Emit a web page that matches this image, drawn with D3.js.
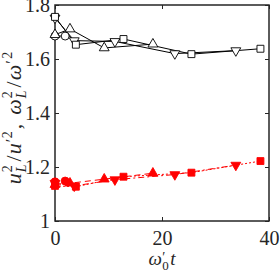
<!DOCTYPE html>
<html>
<head>
<meta charset="utf-8">
<script src="https://cdn.jsdelivr.net/npm/d3@7"></script>
<style>
  body { margin: 0; background: #fff; }
  text { font-family: "Liberation Serif", "DejaVu Serif", serif; }
</style>
</head>
<body>
<div id="chart"></div>
<script>
// time values for each run
const tCircle = [0, 1.9];
const tTri = [0, 2.8, 9.2, 18.3];
const tTriDown = [0, 3.6, 11.2, 22.4, 33.8];
const tSquare = [0, 3.9, 12.8, 25.5, 38.4];

// velocity ratio (open black markers)
const uCircle = [1.685, 1.685];
const uTri = [1.69, 1.711, 1.641, 1.655];
const uTriDown = [1.752, 1.668, 1.665, 1.62, 1.631];
const uSquare = [1.756, 1.653, 1.674, 1.618, 1.638];

// vorticity ratio (filled red markers)
const wCircle = [1.145, 1.148];
const wTri = [1.135, 1.14, 1.155, 1.177];
const wTriDown = [1.14, 1.13, 1.153, 1.172, 1.207];
const wSquare = [1.13, 1.127, 1.164, 1.179, 1.222];

const xTicks = [0, 20, 40];
const yTicks = [1, 1.2, 1.4, 1.6, 1.8];

const width = 280, height = 270;
const margin = { top: 5, right: 11, bottom: 49, left: 55 };
const innerW = width - margin.left - margin.right;
const innerH = height - margin.top - margin.bottom;

const svg = d3.select('#chart').append('svg')
  .attr('width', width)
  .attr('height', height);

const g = svg.append('g')
  .attr('transform', `translate(${margin.left},${margin.top})`);

const x = d3.scaleLinear().domain([0, 40]).range([0, innerW]);
const y = d3.scaleLinear().domain([1, 1.8]).range([innerH, 0]);

// axes, ticks pointing inward, mirrored on top/right
const axisColor = '#262626';
function styleAxis(sel) {
  sel.select('.domain').remove();
  sel.selectAll('line').attr('stroke', axisColor).attr('stroke-width', 1);
  sel.selectAll('text')
    .attr('fill', '#262626')
    .style('font-size', '20px');
}

g.append('g')
  .attr('transform', `translate(0,${innerH})`)
  .call(d3.axisBottom(x).tickValues(xTicks).tickSize(-4).tickPadding(10))
  .call(styleAxis);
g.append('g')
  .call(d3.axisTop(x).tickValues(xTicks).tickSize(-4).tickFormat(''))
  .call(styleAxis);
g.append('g')
  .call(d3.axisLeft(y).tickValues(yTicks).tickSize(-4).tickPadding(5)
    .tickFormat(d3.format('~g')))
  .call(styleAxis);
g.append('g')
  .attr('transform', `translate(${innerW},0)`)
  .call(d3.axisRight(y).tickValues(yTicks).tickSize(-4).tickFormat(''))
  .call(styleAxis);

g.append('rect')
  .attr('width', innerW)
  .attr('height', innerH)
  .attr('fill', 'none')
  .attr('stroke', axisColor)
  .attr('stroke-width', 1.5);

const series = [
  { t: tCircle, v: uCircle, shape: d3.symbolCircle, color: '#000', open: true, dash: null },
  { t: tTri, v: uTri, shape: d3.symbolTriangle, color: '#000', open: true, dash: null },
  { t: tTriDown, v: uTriDown, shape: 'down', color: '#000', open: true, dash: null },
  { t: tSquare, v: uSquare, shape: d3.symbolSquare, color: '#000', open: true, dash: null },
  { t: tCircle, v: wCircle, shape: d3.symbolCircle, color: '#f00', open: false, dash: '4,3' },
  { t: tTri, v: wTri, shape: d3.symbolTriangle, color: '#f00', open: false, dash: '6,4' },
  { t: tTriDown, v: wTriDown, shape: 'down', color: '#f00', open: false, dash: '6,3,2,3' },
  { t: tSquare, v: wSquare, shape: d3.symbolSquare, color: '#f00', open: false, dash: '2,2' }
];

const line = d3.line()
  .x(d => x(d[0]))
  .y(d => y(d[1]));

series.forEach(s => {
  const pts = s.t.map((t, i) => [t, s.v[i]]);
  g.append('path')
    .datum(pts)
    .attr('fill', 'none')
    .attr('stroke', s.color)
    .attr('stroke-width', 1)
    .attr('stroke-dasharray', s.dash)
    .attr('d', line);
});

function symbolPath(shape) {
  if (shape === 'down') {
    return d3.symbol().type(d3.symbolTriangle).size(42)();
  }
  const size = shape === d3.symbolCircle ? 50 : shape === d3.symbolSquare ? 48 : 42;
  return d3.symbol().type(shape).size(size)();
}

series.forEach(s => {
  const pts = s.t.map((t, i) => [t, s.v[i]]);
  g.selectAll(null)
    .data(pts)
    .enter()
    .append('path')
    .attr('d', symbolPath(s.shape))
    .attr('transform', d => `translate(${x(d[0])},${y(d[1])})` +
      (s.shape === 'down' ? ' rotate(180)' : ''))
    .attr('fill', s.open ? '#fff' : s.color)
    .attr('stroke', s.color)
    .attr('stroke-width', 0.9);
});

// axis labels, built from pieces placed side by side
function mathLabel(parent, pieces, base) {
  let cx = 0;
  pieces.forEach(p => {
    const t = parent.append('text')
      .attr('x', cx + (p.dx || 0))
      .attr('y', p.dy || 0)
      .style('font-size', (p.size || base) + 'px')
      .style('font-style', p.italic ? 'italic' : 'normal')
      .attr('fill', '#262626')
      .text(p.s);
    if (!p.stack) {
      cx += t.node().getComputedTextLength() + (p.dx || 0) + (p.gap || 0);
    }
  });
  return cx;
}

const xlG = svg.append('g');
const xw = mathLabel(xlG, [
  { s: 'ω', italic: true },
  { s: '′', size: 14, dy: -3, dx: 0.5, stack: true },
  { s: '0', size: 13, dy: 5, dx: 0.5, gap: 1.5 },
  { s: 't', italic: true }
], 19);
xlG.attr('transform', `translate(${margin.left + innerW / 2 - xw / 2},265)`);

const sup = -9, sub = 5;
const ylG = svg.append('g');
const yw = mathLabel(ylG, [
  { s: 'u', italic: true },
  { s: '2', size: 14, dy: sup, dx: 1, stack: true },
  { s: 'L', size: 14, italic: true, dy: sub, dx: 1, gap: 3 },
  { s: '/', gap: 1 },
  { s: 'u', italic: true },
  { s: '′', size: 16, dy: -4, dx: 1, stack: true },
  { s: '2', size: 14, dy: sup, dx: 5, gap: 2 },
  { s: ',', gap: 9 },
  { s: 'ω', italic: true },
  { s: '2', size: 14, dy: sup, dx: 1, stack: true },
  { s: 'L', size: 14, italic: true, dy: sub, dx: 1, gap: 3 },
  { s: '/', gap: 1 },
  { s: 'ω', italic: true },
  { s: '′', size: 16, dy: -4, dx: 1, stack: true },
  { s: '2', size: 14, dy: sup, dx: 6 }
], 22);
ylG.attr('transform',
  `translate(21,${margin.top + innerH / 2 + 5 + yw / 2}) rotate(-90)`);
</script>
</body>
</html>
